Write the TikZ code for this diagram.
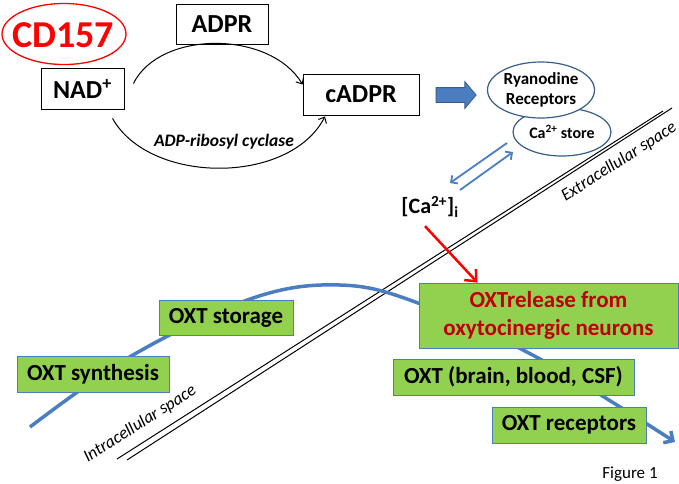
\documentclass[tikz,border=0pt]{standalone}
\usepackage{fontspec}
\setmainfont{Carlito}
\usepackage{tikz}
\usetikzlibrary{arrows.meta,shapes.geometric,shapes.arrows}
\definecolor{oxblue}{RGB}{74,126,193}
\definecolor{boxgreen}{RGB}{146,208,80}
\definecolor{ellblue}{RGB}{56,93,138}
\definecolor{relred}{RGB}{192,0,0}

\begin{document}
\begin{tikzpicture}[x=1pt, y=-1pt,
	molbox/.style={draw, line width=0.8pt, inner sep=0pt, font=\fontsize{26}{30}\selectfont\bfseries},
	oxtbox/.style={draw=oxblue, line width=0.8pt, fill=boxgreen, inner sep=0pt, minimum height=36pt, font=\fontsize{23}{28}\selectfont\bfseries},
	storeell/.style={ellipse, draw=ellblue, line width=1.2pt, fill=white, inner sep=0pt, font=\fontsize{17}{20}\selectfont\bfseries, align=center},
	spacelbl/.style={font=\fontsize{17.5}{21}\selectfont\itshape, rotate=32.6},
	reaction/.style={-{Straight Barb[length=5pt,width=9pt]}, line width=1pt},
	exchange/.style={-{Straight Barb[length=5pt,width=10pt]}, line width=1.8pt, draw=oxblue}
]
\useasboundingbox (0,0) rectangle (679,483);
% membrane
\draw[line width=1pt] (117,459) -- (663,111);
\draw[line width=1pt] (127,460) -- (672,108);
\node[spacelbl] (extra) at (619,162) {Extracellular space};
\node[spacelbl] (intra) at (140,424) {Intracellular space};
% oxytocin pathway
\draw[oxblue, line width=3.5pt, -{Straight Barb[length=7pt,width=14pt]}]
	plot[smooth, tension=0.6] coordinates {(30,427) (133,355) (253,298) (340,285) (418,303) (540,359) (675,442)};
\node[oxtbox, minimum width=152pt] (synth) at (93,374) {OXT synthesis};
\node[oxtbox, minimum width=134pt, minimum height=35pt] (stor) at (226,317.5) {OXT storage};
\node[oxtbox, minimum width=259pt, minimum height=65pt, align=center, text=relred] (rel) at (548.5,315.5) {OXTrelease from\\oxytocinergic neurons};
\node[oxtbox, minimum width=241pt] (brain) at (513.5,377) {OXT (brain, blood, CSF)};
\node[oxtbox, minimum width=154pt] (recep) at (569,425) {OXT receptors};
% CD157 reaction
\node[text=red, font=\fontsize{38}{44}\selectfont\bfseries] (cd) at (63,35) {CD157};
\draw[red, line width=1.3pt] (64,34) ellipse [x radius=62pt, y radius=30.5pt];
\node[molbox, minimum width=92pt, minimum height=40pt] (adpr) at (222,24) {ADPR};
\node[molbox, minimum width=83pt, minimum height=41pt] (nad) at (82.5,88.5) {NAD\textsuperscript{+}};
\node[molbox, minimum width=116pt, minimum height=41pt] (cadpr) at (361,94.5) {cADPR};
\draw[reaction] ([xshift=9pt,yshift=5pt]nad.east) .. controls (160,30) and (270,30) .. ([yshift=10pt]cadpr.west);
\draw[reaction] ([xshift=30pt,yshift=-9pt]nad.south) .. controls (150,185) and (290,185) .. ([xshift=-36pt,yshift=-1pt]cadpr.south);
\node[font=\fontsize{17.5}{20}\selectfont\bfseries\itshape] (cyc) at (224,142) {ADP-ribosyl cyclase};
\node[single arrow, draw=ellblue, line width=0.8pt, fill=oxblue, minimum height=40pt,
	single arrow head extend=6pt, single arrow tip angle=100, inner xsep=0pt, inner ysep=7pt] (blk) at (453,95) {};
% calcium store
\node[storeell, minimum width=98pt, minimum height=48pt, font=\fontsize{16}{19}\selectfont\bfseries] (store) at (562,132) {Ca\textsuperscript{2+} store};
\node[storeell, minimum width=107pt, minimum height=56pt] (ryr) at (541,90) {Ryanodine\\Receptors};
\node[font=\fontsize{22}{26}\selectfont\bfseries] (ca) at (430,207) {[Ca\textsuperscript{2+}]\textsubscript{i}};
\draw[exchange] ([shift={(-55,11)}]store.center) -- ([shift={(20,-24)}]ca.center);
\draw[exchange] ([shift={(30,-17)}]ca.center) -- ([shift={(-49,20)}]store.center);
\draw[red, line width=2.5pt, -{Straight Barb[length=9pt,width=16pt]}] ([xshift=-5pt,yshift=-5pt]ca.south) -- ([xshift=-71pt]rel.north);
\node[font=\fontsize{17}{20}\selectfont] (fig) at (630,474) {Figure 1};
\end{tikzpicture}
\end{document}
